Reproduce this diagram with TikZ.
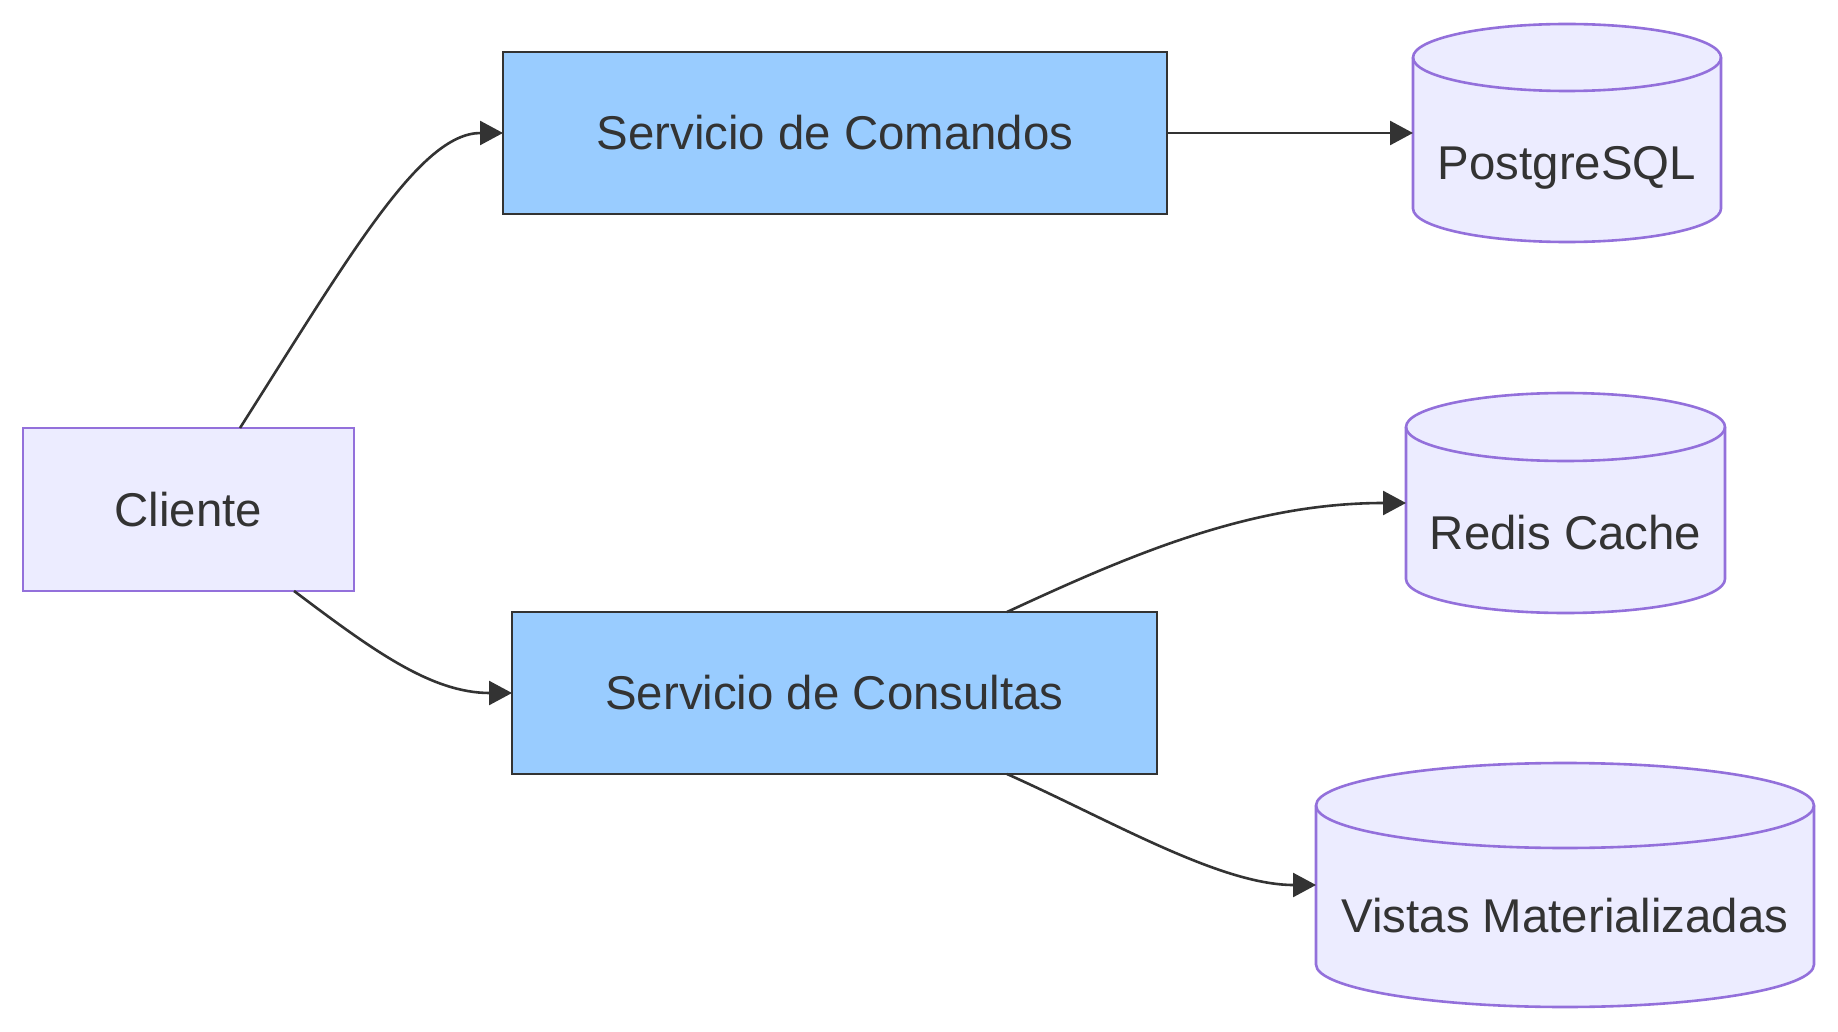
\documentclass[tikz,border=0pt]{standalone}
\usepackage{fontspec}
\setmainfont{Liberation Sans}
\usetikzlibrary{arrows.meta,calc}
\definecolor{nodefill}{HTML}{ECECFF}
\definecolor{nodeline}{HTML}{9370DB}
\definecolor{svcfill}{HTML}{99CCFF}
\definecolor{ink}{HTML}{333333}
\tikzset{
  lbl/.style={text=ink, font=\fontsize{23.7pt}{28pt}\selectfont, text height=16.97pt, text depth=0pt, inner sep=0pt, outer sep=0pt},
  plainbox/.style={lbl, draw=nodeline, fill=nodefill, line width=1.3pt, rectangle, outer sep=0pt},
  svcbox/.style={lbl, draw=ink, fill=svcfill, line width=1.2pt, rectangle, outer sep=0pt},
  dbframe/.style={rectangle, inner sep=0pt, outer sep=0pt},
  dbshape/.style={draw=nodeline, fill=nodefill, line width=1.3pt},
  conn/.style={draw=ink, line width=1.3pt, -{Triangle[length=11.5pt,width=12pt]}},
}
% \dbcylinder{L}{R}{T}{B}{rx pt}{ry px}{ry pt}
\newcommand{\dbcylinder}[7]{%
  \path[dbshape] (#1,#3+#6) -- (#1,#4-#6) arc[start angle=180,end angle=360,x radius=#5pt,y radius=#7pt]
     -- (#2,#3+#6) arc[start angle=0,end angle=180,x radius=#5pt,y radius=#7pt] -- cycle;
  \draw[dbshape, fill=none] (#1,#3+#6) arc[start angle=180,end angle=360,x radius=#5pt,y radius=#7pt];
}
\begin{document}
\begin{tikzpicture}[x=0.5pt,y=-0.5pt]
\useasboundingbox (0,0) rectangle (1838,1032);

% rectangles
\node[plainbox, minimum width=165.5pt, minimum height=81.5pt] (cl) at (188.5,509.5) {Cliente};
\node[svcbox, minimum width=332pt, minimum height=81pt] (cm) at (835,133) {Servicio de Comandos};
\node[svcbox, minimum width=322.5pt, minimum height=81pt] (cq) at (834.5,693) {Servicio de Consultas};

% cylinders
\dbcylinder{1413}{1721}{24}{242}{77}{33.5}{16.75}
\node[dbframe, minimum width=154pt, minimum height=109pt] (pg) at (1567,133) {};
\node[lbl] (pgl) at (1567,163) {PostgreSQL};

\dbcylinder{1406}{1725}{393}{613}{79.75}{34}{17}
\node[dbframe, minimum width=159.5pt, minimum height=110pt] (rd) at (1565.5,503) {};
\node[lbl] (rdl) at (1565.5,533) {Redis Cache};

\dbcylinder{1316}{1814}{763}{1007}{124.5}{42.5}{21.25}
\node[dbframe, minimum width=249pt, minimum height=122pt] (vm) at (1565,885) {};
\node[lbl] (vml) at (1565,916) {Vistas Materializadas};

% connectors
\draw[conn] ([xshift=25.75pt]cl.north) .. controls +(110,-173) and +(-83,0) .. (cm.west);
\draw[conn] ([xshift=52.75pt]cl.south) .. controls +(76,57) and +(-82,0) .. (cq.west);
\draw[conn] (cm.east) -- (pg.west);
\draw[conn] ([xshift=86.25pt]cq.north) .. controls +(123,-57) and +(-156,0) .. (rd.west);
\draw[conn] ([xshift=86.25pt]cq.south) .. controls +(103,46) and +(-96,0) .. (vm.west);
\end{tikzpicture}
\end{document}
